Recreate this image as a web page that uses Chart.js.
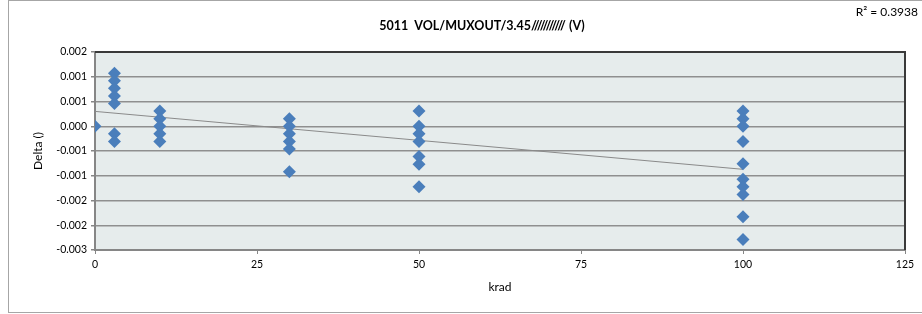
<!DOCTYPE html>
<html>
<head>
<meta charset="utf-8">
<title>5011 VOL/MUXOUT/3.45</title>
<script src="https://cdn.jsdelivr.net/npm/chart.js@4.4.1/dist/chart.umd.min.js"></script>
<style>
    html, body { margin: 0; padding: 0; background: #fff; }
    #wrap { width: 922px; height: 314px; }
</style>
</head>
<body>
<div id="wrap"><canvas id="chart" width="922" height="314"></canvas></div>
<script>
// ── Data ──────────────────────────────────────────────────────────────────

var chartTitle = '5011  VOL/MUXOUT/3.45/////////// (V)';
var rSquaredText = 'R\u00b2 = 0.3938';
var xAxisTitle = 'krad';
var yAxisTitle = 'Delta ()';

// dose steps (krad) and the deltas read at each step
var doseSteps = [0, 3, 10, 30, 50, 100];
var deltaAt0   = [0.0];
var deltaAt3   = [0.00107, 0.00092, 0.00077, 0.00061, 0.00046, -0.00015, -0.00031];
var deltaAt10  = [0.00031, 0.00015, 0.0, -0.00015, -0.00031];
var deltaAt30  = [0.00015, 0.0, -0.00015, -0.00031, -0.00046, -0.00092];
var deltaAt50  = [0.00031, 0.0, -0.00015, -0.00031, -0.00061, -0.00077, -0.00122];
var deltaAt100 = [0.00031, 0.00015, 0.0, -0.00031, -0.00076, -0.00107, -0.00122, -0.00138, -0.00183, -0.00229];
var deltaGroups = [deltaAt0, deltaAt3, deltaAt10, deltaAt30, deltaAt50, deltaAt100];

// linear trend as drawn in the picture
var trendIntercept = 0.0003;
var trendSlope = -0.0000117;

var xTickValues = [0, 25, 50, 75, 100, 125];
var yTickValues = [-0.0025, -0.002, -0.0015, -0.001, -0.0005, 0, 0.0005, 0.001, 0.0015];
var yTickLabels = ['-0.003', '-0.002', '-0.002', '-0.001', '-0.001', '0.000', '0.001', '0.001', '0.002'];

// ── Build points ──────────────────────────────────────────────────────────

var points = [];
doseSteps.forEach(function (dose, i) {
    deltaGroups[i].forEach(function (v) { points.push({ x: dose, y: v }); });
});

var trendEnd = doseSteps[doseSteps.length - 1];
var trendPoints = [
    { x: 0, y: trendIntercept },
    { x: trendEnd, y: trendIntercept + trendSlope * trendEnd }
];

var FONT = 'Lato, "Open Sans", sans-serif';

// ── Frame, background and texts ───────────────────────────────────────────

var framePlugin = {
    id: 'frame',
    beforeDraw: function (chart) {
        var ctx = chart.ctx, a = chart.chartArea;
        ctx.save();
        ctx.fillStyle = '#e6ecec';
        ctx.fillRect(a.left, a.top, a.right - a.left, a.bottom - a.top);
        ctx.strokeStyle = '#a6a6a6';
        ctx.lineWidth = 1;
        ctx.strokeRect(8.5, 0.5, 1000, 312);
        ctx.restore();
    },
    beforeDatasetsDraw: function (chart) {
        var ctx = chart.ctx, a = chart.chartArea;
        ctx.save();
        ctx.strokeStyle = '#3a3a3a';
        ctx.lineWidth = 2;
        ctx.beginPath();
        ctx.moveTo(a.left, a.top);
        ctx.lineTo(a.right, a.top);
        ctx.lineTo(a.right, a.bottom);
        ctx.stroke();
        ctx.restore();
    },
    afterDraw: function (chart) {
        var ctx = chart.ctx, a = chart.chartArea;
        ctx.save();
        ctx.fillStyle = '#000';
        ctx.textBaseline = 'middle';

        ctx.textAlign = 'center';
        ctx.font = 'bold 12.5px ' + FONT;
        ctx.fillText(chartTitle, 482, 26);

        ctx.textAlign = 'right';
        ctx.font = '12px ' + FONT;
        ctx.fillText(rSquaredText, 918, 12);

        ctx.textAlign = 'center';
        ctx.font = '12px ' + FONT;
        ctx.fillText(xAxisTitle, (a.left + a.right) / 2, 287);

        ctx.translate(38, (a.top + a.bottom) / 2);
        ctx.rotate(-Math.PI / 2);
        ctx.fillText(yAxisTitle, 0, 0);
        ctx.restore();
    }
};

// ── Chart ─────────────────────────────────────────────────────────────────

new Chart(document.getElementById('chart').getContext('2d'), {
    type: 'scatter',
    data: {
        datasets: [
            {
                label: 'Delta',
                data: points,
                pointStyle: 'rectRot',
                pointRadius: 6.5,
                pointHoverRadius: 6.5,
                backgroundColor: '#4a7ebb',
                borderColor: '#4a7ebb',
                borderWidth: 0,
                order: 1
            },
            {
                label: 'Trend',
                type: 'line',
                data: trendPoints,
                borderColor: '#8a8a8a',
                borderWidth: 1,
                pointRadius: 0,
                fill: false,
                order: 2
            }
        ]
    },
    options: {
        responsive: false,
        animation: false,
        layout: { padding: { left: 0, top: 52, right: 17, bottom: 0 } },
        plugins: {
            legend: { display: false },
            tooltip: { enabled: false }
        },
        scales: {
            x: {
                type: 'linear',
                min: 0,
                max: 125,
                afterBuildTicks: function (s) { s.ticks = xTickValues.map(function (v) { return { value: v }; }); },
                afterFit: function (s) { s.height = 64; },
                grid: { drawOnChartArea: false, drawTicks: true, tickLength: 4, tickColor: '#868686' },
                border: { color: '#868686', width: 2 },
                ticks: { color: '#000', padding: 4, font: { family: FONT, size: 10.5 } }
            },
            y: {
                type: 'linear',
                min: -0.0025,
                max: 0.0015,
                afterBuildTicks: function (s) { s.ticks = yTickValues.map(function (v) { return { value: v }; }); },
                afterFit: function (s) { s.width = 95; },
                grid: { color: '#8f8f8f', lineWidth: 1.5, drawTicks: true, tickLength: 4, tickColor: '#868686' },
                border: { color: '#868686', width: 2 },
                ticks: {
                    color: '#000',
                    padding: 4,
                    font: { family: FONT, size: 10.5 },
                    callback: function (v, i) { return yTickLabels[i]; }
                }
            }
        }
    },
    plugins: [framePlugin]
});
</script>
</body>
</html>
